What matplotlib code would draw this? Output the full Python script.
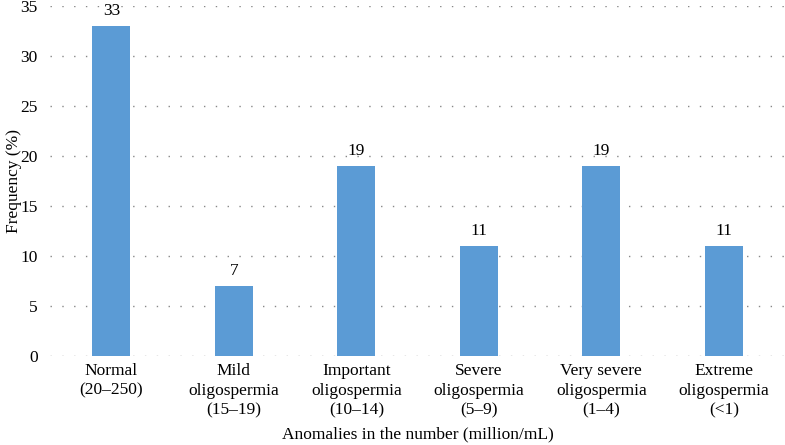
import matplotlib.pyplot as plt

categories = [
    "Normal\n(20–250)",
    "Mild\noligospermia\n(15–19)",
    "Important\noligospermia\n(10–14)",
    "Severe\noligospermia\n(5–9)",
    "Very severe\noligospermia\n(1–4)",
    "Extreme\noligospermia\n(<1)",
]
values = [33, 7, 19, 11, 19, 11]
yticks = [0, 5, 10, 15, 20, 25, 30, 35]

plt.rcParams['font.family'] = ['Liberation Serif', 'DejaVu Serif']

fig = plt.figure(figsize=(7.85, 4.45), dpi=100)
ax = fig.add_axes([0.064, 0.2, 0.936, 0.786])

x = range(len(categories))
ax.bar(x, values, width=0.31, color="#5B9BD5", zorder=3)
for xi, v in zip(x, values):
    ax.text(xi, v + 0.7, str(v), ha="center", va="bottom", fontsize=12.5)

ax.set_xlim(-0.5, 5.5)
ax.set_ylim(0, 35)
ax.set_yticks(yticks)
ax.set_xticks(list(x))
ax.set_xticklabels(categories, fontsize=12.5, linespacing=1.3)
ax.tick_params(axis="y", labelsize=12.5, length=0, pad=9)
ax.tick_params(axis="x", length=0, pad=5)
ax.yaxis.grid(True, linestyle=(0, (1, 7.5)), color="#888888", linewidth=1.0, zorder=0)
ax.set_axisbelow(True)
for s in ax.spines.values():
    s.set_visible(False)

ax.set_ylabel("Frequency (%)", fontsize=12.5)
ax.yaxis.set_label_coords(-0.039, 0.5)
ax.set_xlabel("Anomalies in the number (million/mL)", fontsize=12.5, labelpad=6)

fig.savefig("out.png", dpi=100)
